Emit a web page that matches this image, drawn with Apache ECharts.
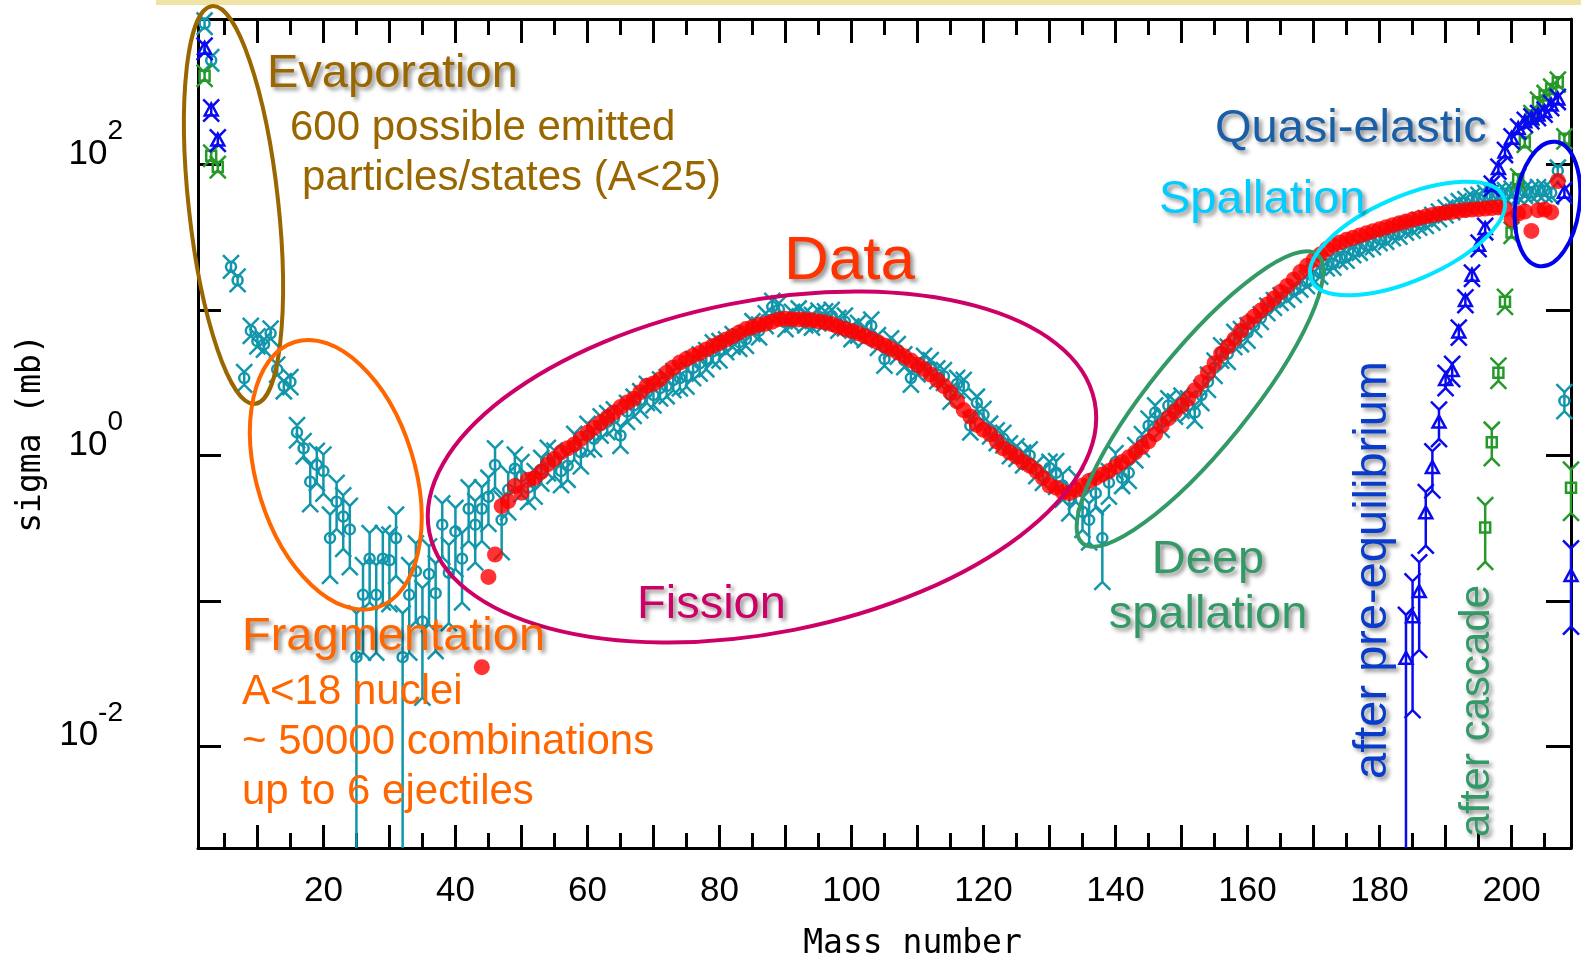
<!DOCTYPE html>
<html>
<head>
<meta charset="utf-8">
<title>Residual nuclei cross sections</title>
<script src="https://cdn.jsdelivr.net/npm/echarts@6/dist/echarts.min.js"></script>
<style>
  html, body { margin: 0; padding: 0; background: #ffffff; }
  #chart { width: 1581px; height: 957px; }
</style>
</head>
<body>
<div id="chart"></div>
<script>
// ---------------- axis labels ----------------
const xLabelValues = [20, 40, 60, 80, 100, 120, 140, 160, 180, 200];
const yLabelExponents = [2, 0, -2];

// ---------------- measured data (red dots) ----------------
const dataMass = [
  44, 45, 46, 47, 48, 49, 50,
  51, 52, 53, 54, 55, 56, 57, 58, 59, 60,
  61, 62, 63, 64, 65, 66, 67, 68, 69, 70,
  71, 72, 73, 74, 75, 76, 77, 78, 79, 80,
  81, 82, 83, 84, 85, 86, 87, 88, 89, 90,
  91, 92, 93, 94, 95, 96, 97, 98, 99, 100,
  101, 102, 103, 104, 105, 106, 107, 108, 109, 110,
  111, 112, 113, 114, 115, 116, 117, 118, 119, 120,
  121, 122, 123, 124, 125, 126, 127, 128, 129, 130,
  131, 132, 133, 134, 135, 136, 137, 138, 139, 140,
  141, 142, 143, 144, 145, 146, 147, 148, 149, 150,
  151, 152, 153, 154, 155, 156, 157, 158, 159, 160,
  161, 162, 163, 164, 165, 166, 167, 168, 169, 170,
  171, 172, 173, 174, 175, 176, 177, 178, 179, 180,
  181, 182, 183, 184, 185, 186, 187, 188, 189, 190,
  191, 192, 193, 194, 195, 196, 197, 198, 199, 200,
  201, 202, 203, 204, 205, 206, 207
];
const dataSigma = [
  0.035, 0.146, 0.208, 0.449, 0.485, 0.615, 0.554,
  0.68, 0.70, 0.77, 0.87, 0.95, 1.05, 1.12, 1.19, 1.30, 1.43,
  1.55, 1.68, 1.82, 1.97, 2.15, 2.31, 2.45, 2.72, 3.01, 3.12,
  3.34, 3.70, 4.02, 4.35, 4.60, 4.85, 5.05, 5.35, 5.66, 5.92,
  6.25, 6.60, 7.00, 7.38, 7.62, 7.90, 8.05, 8.30, 8.64, 8.70,
  8.64, 8.60, 8.55, 8.50, 8.35, 8.20, 8.00, 7.65, 7.40, 7.15,
  6.90, 6.60, 6.30, 6.00, 5.70, 5.40, 5.10, 4.80, 4.50, 4.20,
  3.92, 3.60, 3.30, 3.00, 2.71, 2.35, 2.05, 1.85, 1.62, 1.50,
  1.40, 1.25, 1.12, 1.045, 0.98, 0.90, 0.85, 0.78, 0.70, 0.62,
  0.60, 0.56, 0.55, 0.58, 0.62, 0.667, 0.70, 0.74, 0.78, 0.84,
  0.90, 0.97, 1.05, 1.14, 1.25, 1.40, 1.60, 1.80, 2.00, 2.20,
  2.45, 2.80, 3.20, 3.70, 4.30, 5.00, 5.60, 6.30, 7.20, 8.20,
  9.00, 9.90, 10.9, 12.0, 13.3, 14.6, 16.2, 18.2, 20.1, 22.0,
  24.0, 26.2, 27.8, 29.1, 30.4, 31.4, 32.5, 33.6, 34.8, 35.8,
  37.0, 38.2, 39.5, 40.6, 41.8, 42.9, 43.8, 44.9, 45.8, 46.6,
  47.3, 47.9, 48.5, 49.0, 49.3, 49.8, 50.2, 50.7, 49.5, 42.0,
  46.0, 47.5, 34.9, 48.5, 49.0, 47.0, 77.0
];

// ---------------- full calculation (teal circles) ----------------
const finalMass = [
  2, 3, 6, 7, 8, 9, 10, 11, 12, 13, 14, 15, 16, 17, 18, 19, 20,
  21, 22, 23, 24, 25, 26, 27, 28, 29, 30,
  31, 32, 33, 34, 35, 36, 37, 38, 39, 40,
  41, 42, 43, 44, 45, 46, 47, 48, 49, 50,
  51, 52, 53, 54, 55, 56, 57, 58, 59, 60,
  61, 62, 63, 64, 65, 66, 67, 68, 69, 70,
  71, 72, 73, 74, 75, 76, 77, 78, 79, 80,
  81, 82, 83, 84, 85, 86, 87, 88, 89, 90,
  91, 92, 93, 94, 95, 96, 97, 98, 99, 100,
  101, 102, 103, 104, 105, 106, 107, 108, 109, 110,
  111, 112, 113, 114, 115, 116, 117, 118, 119, 120,
  121, 122, 123, 124, 125, 126, 127, 128, 129, 130,
  131, 132, 133, 134, 135, 136, 137, 138, 139, 140,
  141, 142, 143, 144, 145, 146, 147, 148, 149, 150,
  151, 152, 153, 154, 155, 156, 157, 158, 159, 160,
  161, 162, 163, 164, 165, 166, 167, 168, 169, 170,
  171, 172, 173, 174, 175, 176, 177, 178, 179, 180,
  181, 182, 183, 184, 185, 186, 187, 188, 189, 190,
  191, 192, 193, 194, 195, 196, 197, 198, 199, 200,
  201, 202, 203, 204, 205, 206, 207, 208
];
const finalSigma = [
  930, 520, 19.8, 16.0, 3.4, 7.2, 6.1, 5.8, 6.9, 3.9, 3.0, 3.2, 1.44, 1.12, 0.66, 0.86, 0.78,
  0.27, 0.48, 0.38, 0.31, 0.041, 0.11, 0.195, 0.11, 0.195, 0.19,
  0.27, 0.041, 0.11, 0.16, 0.072, 0.153, 0.113, 0.334, 0.156, 0.30,
  0.195, 0.43, 0.334, 0.43, 0.52, 0.86, 0.36, 0.58, 0.81, 0.72,
  0.60, 0.65, 0.80, 0.94, 0.90, 0.78, 0.85, 1.17, 1.05, 1.37,
  1.30, 1.61, 1.70, 1.80, 1.37, 2.00, 2.20, 2.40, 2.70, 2.60,
  2.90, 3.00, 3.30, 3.40, 3.50, 4.00, 4.30, 4.60, 5.20, 5.30,
  5.70, 6.20, 6.00, 6.30, 7.60, 7.20, 8.60, 10.5, 10.1, 8.2,
  8.8, 9.3, 8.7, 8.4, 9.0, 8.9, 9.1, 8.0, 8.3, 7.0,
  7.4, 6.9, 7.8, 6.1, 4.6, 5.8, 5.3, 4.5, 3.4, 4.0,
  4.4, 4.1, 3.6, 3.5, 2.6, 3.1, 3.0, 1.6, 2.3, 1.9,
  1.5, 1.35, 1.3, 1.1, 1.05, 0.95, 1.0, 0.8, 0.72, 0.82,
  0.76, 0.62, 0.50, 0.60, 0.41, 0.36, 0.55, 0.27, 0.65, 0.90,
  0.70, 0.76, 1.05, 1.25, 1.60, 1.97, 1.70, 2.20, 2.10, 2.30,
  2.20, 1.97, 2.60, 3.20, 4.00, 5.10, 5.00, 6.30, 6.60, 7.00,
  7.80, 8.80, 10.1, 11.0, 11.9, 12.5, 13.5, 14.7, 15.5, 17.0,
  18.0, 20.5, 20.8, 22.9, 23.2, 25.3, 26.3, 27.8, 28.8, 30.6,
  31.3, 33.2, 34.0, 36.2, 37.3, 39.2, 40.3, 42.4, 44.8, 47.6,
  49.8, 52.7, 54.6, 57.2, 58.3, 60.2, 60.8, 62.3, 62.8, 64.3,
  63.0, 65.0, 64.3, 66.0, 66.0, 64.0, 90.6, 2.37
];
// relative statistical error of each calculated point
const finalErr = [
  0.05, 0.05, 0.06, 0.06, 0.10, 0.08, 0.08, 0.08, 0.08, 0.08, 0.08, 0.08, 0.12, 0.12, 0.30, 0.25, 0.30,
  0.45, 0.35, 0.40, 0.45, 1.00, 0.60, 0.50, 0.60, 0.50, 0.50,
  0.45, 1.00, 0.60, 0.55, 0.70, 0.55, 0.60, 0.40, 0.55, 0.45,
  0.50, 0.40, 0.45, 0.40, 0.35, 0.30, 0.40, 0.30, 0.25, 0.25,
  0.20, 0.20, 0.20, 0.20, 0.20, 0.20, 0.20, 0.20, 0.20, 0.20,
  0.15, 0.15, 0.15, 0.15, 0.15, 0.15, 0.15, 0.15, 0.15, 0.15,
  0.15, 0.15, 0.15, 0.15, 0.15, 0.15, 0.15, 0.15, 0.15, 0.15,
  0.10, 0.10, 0.10, 0.10, 0.10, 0.10, 0.10, 0.10, 0.10, 0.10,
  0.10, 0.10, 0.10, 0.10, 0.10, 0.10, 0.10, 0.10, 0.10, 0.10,
  0.10, 0.10, 0.10, 0.10, 0.10, 0.10, 0.10, 0.10, 0.10, 0.10,
  0.10, 0.10, 0.10, 0.10, 0.10, 0.10, 0.10, 0.10, 0.10, 0.10,
  0.10, 0.10, 0.10, 0.10, 0.10, 0.10, 0.10, 0.10, 0.10, 0.10,
  0.20, 0.20, 0.20, 0.20, 0.25, 0.30, 0.20, 0.50, 0.20, 0.15,
  0.12, 0.12, 0.12, 0.12, 0.12, 0.12, 0.12, 0.12, 0.12, 0.12,
  0.12, 0.12, 0.12, 0.12, 0.12, 0.12, 0.12, 0.12, 0.12, 0.12,
  0.06, 0.06, 0.06, 0.06, 0.06, 0.06, 0.06, 0.06, 0.06, 0.06,
  0.06, 0.06, 0.06, 0.06, 0.06, 0.06, 0.06, 0.06, 0.06, 0.06,
  0.06, 0.06, 0.06, 0.06, 0.06, 0.06, 0.06, 0.06, 0.06, 0.06,
  0.06, 0.06, 0.06, 0.06, 0.06, 0.06, 0.06, 0.06, 0.06, 0.06,
  0.06, 0.06, 0.06, 0.06, 0.06, 0.06, 0.05, 0.15
];

// ---------------- after pre-equilibrium (blue triangles) ----------------
const preeqMass = [2, 3, 4,
  184, 185, 186, 187, 188, 189, 190, 191, 192, 193, 194, 195, 196,
  197, 198, 199, 200, 201, 202, 203, 204, 205, 206, 207, 208, 209];
const preeqSigma = [624, 235, 146,
  0.04, 0.077, 0.115, 0.40, 0.82, 1.68, 3.3, 3.8, 7.0, 11.5, 17.2, 27.6, 36,
  71, 93, 121, 150, 175, 195, 206, 217, 229, 254, 280, 64, 0.148];
const preeqErr = [0.05, 0.05, 0.05,
  1.0, 0.77, 0.6, 0.4, 0.3, 0.23, 0.12, 0.12, 0.08, 0.06, 0.05, 0.05, 0.05,
  0.04, 0.04, 0.04, 0.04, 0.04, 0.04, 0.04, 0.04, 0.04, 0.04, 0.04, 0.05, 0.55];

// ---------------- after cascade (green squares) ----------------
const cascadeMass = [2, 3, 4,
  196, 197, 198, 199, 200, 201, 202, 203, 204, 205, 206, 207, 208, 209];
const cascadeSigma = [408, 115, 96,
  0.32, 1.23, 3.7, 11.4, 34, 79, 142, 217, 268, 298, 330, 368, 150, 0.60];
const cascadeErr = [0.05, 0.05, 0.05,
  0.42, 0.22, 0.12, 0.08, 0.05, 0.05, 0.04, 0.04, 0.04, 0.04, 0.04, 0.04, 0.04, 0.33];

// ---------------- styling ----------------
const TITLE_FONT = "'DejaVu Sans Mono', monospace";
const TICK_FONT = "'Liberation Sans', Arial, sans-serif";
const NOTE_FONT = "'Liberation Sans', Arial, sans-serif";
const TEAL = '#1196ab';
const BLUE = '#0a0af0';
const GREEN = '#27992b';
const RED = '#ff0000';

function markerShape(kind, x, y, color) {
  const style = { stroke: color, lineWidth: 2.5, fill: 'none' };
  if (kind === 'triangle') {
    return { type: 'polygon', shape: { points: [[x, y - 7], [x - 6.5, y + 5], [x + 6.5, y + 5]] }, style };
  }
  if (kind === 'square') {
    return { type: 'rect', shape: { x: x - 5, y: y - 5, width: 10, height: 10 }, style };
  }
  return { type: 'circle', shape: { cx: x, cy: y, r: 5 }, style };
}

// points with vertical error bars ending in forked caps
function errorSeries(name, mass, sigma, err, color, marker, z) {
  return {
    type: 'custom',
    name,
    z,
    xAxisIndex: 0,
    yAxisIndex: 0,
    encode: { x: 0, y: 1 },
    data: mass.map((a, i) => [a, sigma[i], err[i]]),
    clip: false,
    renderItem(params, api) {
      const a = api.value(0), v = api.value(1), e = api.value(2);
      const cs = params.coordSys;
      const bottom = cs.y + cs.height;
      const p = api.coord([a, v]);
      const x = p[0], y = p[1];
      const yHi = api.coord([a, v * (1 + e)])[1];
      const loV = v * (1 - e);
      let yLo = bottom, openLow = true;
      if (loV > 0) {
        const c = api.coord([a, loV])[1];
        if (c < bottom) { yLo = c; openLow = false; }
      }
      const ls = { stroke: color, lineWidth: 2.5, fill: 'none' };
      const kids = [
        { type: 'line', shape: { x1: x, y1: yHi, x2: x, y2: yLo }, style: ls },
        { type: 'polyline', shape: { points: [[x - 8, yHi - 8], [x, yHi], [x + 8, yHi - 8]] }, style: ls }
      ];
      if (!openLow) {
        kids.push({ type: 'polyline', shape: { points: [[x - 8, yLo + 8], [x, yLo], [x + 8, yLo + 8]] }, style: ls });
      }
      kids.push(markerShape(marker, x, y, color));
      return { type: 'group', children: kids };
    }
  };
}

// ---------------- annotations ----------------
const shadow = {
  textShadowColor: 'rgba(0,0,0,0.45)', textShadowBlur: 4, textShadowOffsetX: 3, textShadowOffsetY: 3
};
function note(text, x, y, size, color, opts) {
  opts = opts || {};
  return {
    type: 'text', x, y, z: 100,
    rotation: opts.rotation || 0,
    style: Object.assign({
      text, fill: color, fontSize: size, fontFamily: NOTE_FONT,
      align: opts.align || 'left', verticalAlign: 'middle',
      textAlign: opts.align || 'left', textVerticalAlign: 'middle'
    }, opts.shadow ? shadow : {})
  };
}
// rotation in degrees, counter-clockwise on screen
function ring(cx, cy, rx, ry, deg, color) {
  return {
    type: 'ellipse', x: cx, y: cy, rotation: deg * Math.PI / 180, z: 100,
    shape: { cx: 0, cy: 0, rx, ry },
    style: { fill: 'none', stroke: color, lineWidth: 4 }
  };
}

const BROWN = '#996600', ORANGE = '#ff6600', MAGENTA = '#cc0066',
      DEEPGREEN = '#339966', CYAN = '#00e6ff', QBLUE = '#1a5ea6';

const graphics = [
  { type: 'rect', z: 100, shape: { x: 156, y: 0, width: 1425, height: 5 }, style: { fill: '#efe3a6' } },
  ring(233.5, 205, 44.8, 200, 6.2, BROWN),
  ring(335.8, 474.8, 78.8, 139, 17.2, ORANGE),
  ring(762, 467, 339, 166, 11.1, MAGENTA),
  ring(1200, 399, 186, 49, 50.9, DEEPGREEN),
  ring(1407.5, 238.5, 104.7, 42, 23.4, CYAN),
  ring(1547.5, 204, 32, 62.7, -7.5, '#0000ee'),
  note('Evaporation', 267, 74, 47, BROWN, { shadow: true }),
  note('600 possible emitted', 290, 128, 42, BROWN),
  note('particles/states (A<25)', 302, 178, 42, BROWN),
  note('Data', 784, 262, 62, '#ff3300', { shadow: true }),
  note('Fission', 637, 605, 47, MAGENTA, { shadow: true }),
  note('Fragmentation', 242, 637, 47, ORANGE, { shadow: true }),
  note('A<18 nuclei', 242, 692, 42, ORANGE),
  note('~ 50000 combinations', 242, 742, 42, ORANGE),
  note('up to 6 ejectiles', 242, 792, 42, ORANGE),
  note('Quasi-elastic', 1215, 129, 47, QBLUE, { shadow: true }),
  note('Spallation', 1159, 200, 47, '#00ccff', { shadow: true }),
  note('Deep', 1208, 560, 47, DEEPGREEN, { shadow: true, align: 'center' }),
  note('spallation', 1208, 615, 47, DEEPGREEN, { shadow: true, align: 'center' }),
  note('after pre-equilibrium', 1373, 570, 47, '#0a3ccc', { shadow: true, align: 'center', rotation: Math.PI / 2 }),
  note('after cascade', 1477, 711, 42, DEEPGREEN, { shadow: true, align: 'center', rotation: Math.PI / 2 })
];

// ---------------- axes ----------------
const frameLine = { show: true, onZero: false, lineStyle: { color: '#000', width: 3 } };
function massAxis(position, step, tickLen, main) {
  return {
    type: 'value', min: 1, max: 209, position,
    minInterval: step, maxInterval: step,
    axisLine: main ? frameLine : { show: false, onZero: false },
    axisTick: { show: true, inside: true, length: tickLen, lineStyle: { color: '#000', width: 3 } },
    axisLabel: (main && position === 'bottom') ? {
      show: true, margin: 26, color: '#000', fontSize: 35, fontFamily: TICK_FONT,
      formatter: v => (xLabelValues.indexOf(v) >= 0 ? String(v) : '')
    } : { show: false },
    splitLine: { show: false },
    name: (main && position === 'bottom') ? 'Mass number' : '',
    nameLocation: 'middle', nameGap: 80,
    nameTextStyle: { color: '#000', fontSize: 33, fontFamily: TITLE_FONT, padding: [0, 0, 0, 56] }
  };
}
function sigmaAxis(position, tickLen, withLabels) {
  return {
    type: 'log', logBase: 10, min: 0.002, max: 1000, position,
    axisLine: frameLine,
    axisTick: { show: true, inside: true, length: tickLen, lineStyle: { color: '#000', width: 3 } },
    minorTick: { show: false },
    splitLine: { show: false },
    axisLabel: withLabels ? {
      show: true, margin: 75, verticalAlign: 'bottom', padding: [0, 0, -7, 0],
      formatter: v => {
        const lg = Math.log10(v), e = Math.round(lg);
        if (Math.abs(lg - e) > 1e-6 || yLabelExponents.indexOf(e) < 0) return '';
        return '{b|10}{s|' + e + '}';
      },
      rich: {
        b: { fontSize: 35, fontFamily: TICK_FONT, color: '#000', verticalAlign: 'bottom' },
        s: { fontSize: 28, fontFamily: TICK_FONT, color: '#000', padding: [0, 0, 26, 0], verticalAlign: 'bottom' }
      }
    } : { show: false },
    name: withLabels ? 'sigma (mb)' : '',
    nameLocation: 'middle', nameRotate: 90, nameGap: 141,
    nameTextStyle: { color: '#000', fontSize: 33, fontFamily: TITLE_FONT }
  };
}

const chart = echarts.init(document.getElementById('chart'), null, { renderer: 'canvas' });
chart.setOption({
  animation: false,
  backgroundColor: '#ffffff',
  grid: { left: 198, right: 10, top: 19, bottom: 109, containLabel: false, outerBoundsMode: 'none' },
  xAxis: [
    massAxis('bottom', 10, 23, true),
    massAxis('bottom', 5, 15, false),
    massAxis('top', 10, 24, true),
    massAxis('top', 5, 16, false)
  ],
  yAxis: [
    sigmaAxis('left', 23, true),
    sigmaAxis('right', 25, false)
  ],
  series: [
    errorSeries('full calculation', finalMass, finalSigma, finalErr, TEAL, 'circle', 2),
    errorSeries('after cascade', cascadeMass, cascadeSigma, cascadeErr, GREEN, 'square', 3),
    errorSeries('after pre-equilibrium', preeqMass, preeqSigma, preeqErr, BLUE, 'triangle', 4),
    {
      type: 'scatter', name: 'data', z: 5,
      xAxisIndex: 0, yAxisIndex: 0,
      symbol: 'circle', symbolSize: 16,
      itemStyle: { color: RED },
      data: dataMass.map((a, i) => [a, dataSigma[i]])
    }
  ],
  graphic: graphics
});
</script>
</body>
</html>
